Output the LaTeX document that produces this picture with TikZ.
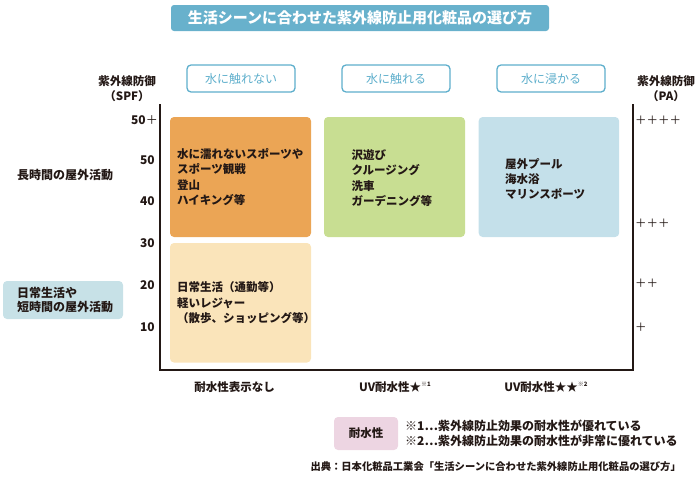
\documentclass[tikz,border=0pt]{standalone}
\usepackage{fontspec}
\setmainfont{Noto Sans CJK JP}
\definecolor{titlebg}{HTML}{68B1CC}
\definecolor{hdr}{HTML}{5EAFCC}
\definecolor{orangebox}{HTML}{EBA555}
\definecolor{yellowbox}{HTML}{FAE4BA}
\definecolor{greenbox}{HTML}{C8DE92}
\definecolor{bluebox}{HTML}{C4E0EA}
\definecolor{leftbox}{HTML}{C7E1E7}
\definecolor{pinkbox}{HTML}{EDD5E2}
\definecolor{txt}{HTML}{231815}
\newcommand{\supnote}[1]{\raisebox{0.75ex}{\fontsize{6}{6}\selectfont #1}}
\begin{document}
\begin{tikzpicture}[x=1pt,y=-1pt,
  areabox/.style={rounded corners=4pt, inner sep=0pt, draw=none},
  hdrbox/.style={draw=hdr, line width=1.3pt, rounded corners=4pt, fill=white,
    minimum width=108pt, minimum height=27pt, inner sep=0pt, text=hdr,
    font=\fontsize{12}{14}\selectfont},
  lbl/.style={font=\bfseries\fontsize{11.5}{15.3}\selectfont, text=txt, inner sep=0pt, align=left},
  axlbl/.style={font=\bfseries\fontsize{11.5}{15}\selectfont, text=txt, inner sep=0pt, align=center},
  tick/.style={font=\bfseries\fontsize{12}{14}\selectfont, text=txt, inner sep=0pt, anchor=east},
  ptick/.style={font=\fontsize{11.5}{14}\selectfont, text=txt, inner sep=0pt, anchor=west},
  axis/.style={line width=1.5pt, draw=txt}
]
\useasboundingbox (0,0) rectangle (700,480);

% title
\node[fill=titlebg, rounded corners=3pt, minimum width=378pt, minimum height=26pt,
  inner sep=0pt, text=white, font=\bfseries\fontsize{15}{18}\selectfont]
  (title) at (360,18) {生活シーンに合わせた紫外線防止用化粧品の選び方};

% column headers
\node[hdrbox] (h1) at (241,78.5) {水に触れない};
\node[hdrbox] (h2) at (396,78.5) {水に触れる};
\node[hdrbox] (h3) at (551,78.5) {水に浸かる};

% axis titles
\node[axlbl] (spf) at (127,89) {紫外線防御\\（SPF）};
\node[axlbl] (pa) at (666,89) {紫外線防御\\（PA）};

% axes
\coordinate (atl) at (160,104);
\coordinate (abl) at (160,370);
\coordinate (abr) at (633,370);
\coordinate (atr) at (633,104);
\draw[axis] (atl) -- (abl) -- (abr) -- (atr);

% area boxes
\node[areabox, fill=orangebox, minimum width=141pt, minimum height=120pt] (orange) at (240.5,177) {};
\node[areabox, fill=yellowbox, minimum width=141pt, minimum height=119.5pt] (yellow) at (240.5,302.75) {};
\node[areabox, fill=greenbox, minimum width=141pt, minimum height=120pt] (green) at (394.5,177) {};
\node[areabox, fill=bluebox, minimum width=140.5pt, minimum height=120pt] (blue) at (548.9,177) {};

\node[lbl, anchor=west] (orangetxt) at ([xshift=7pt]orange.west) {水に濡れないスポーツや\\スポーツ観戦\\登山\\ハイキング等};
\node[lbl, anchor=west] (yellowtxt) at ([xshift=7pt]yellow.west) {日常生活（通勤等）\\軽いレジャー\\（散歩、ショッピング等）};
\node[lbl, anchor=west] (greentxt) at ([xshift=27.5pt,yshift=-1pt]green.west) {沢遊び\\クルージング\\洗車\\ガーデニング等};
\node[lbl, anchor=west] (bluetxt) at ([xshift=26.5pt,yshift=-2pt]blue.west) {屋外プール\\海水浴\\マリンスポーツ};

% left labels
\node[lbl, anchor=west, font=\bfseries\fontsize{12}{15.3}\selectfont] (longact) at (17,175) {長時間の屋外活動};
\node[areabox, fill=leftbox, minimum width=120pt, minimum height=38pt] (shortbox) at (63,300) {};
\node[lbl, anchor=west, font=\bfseries\fontsize{12}{14.5}\selectfont] (shorttxt) at (17,300) {日常生活や\\短時間の屋外活動};

% SPF ticks
\node[tick] (t50p) at (158,120) {50\textmd{＋}};
\node[tick] (t50) at (155,160) {50};
\node[tick] (t40) at (155,201.5) {40};
\node[tick] (t30) at (155,243) {30};
\node[tick] (t20) at (155,285) {20};
\node[tick] (t10) at (155,327.5) {10};

% PA ticks
\node[ptick] (p4) at (635,120) {＋＋＋＋};
\node[ptick] (p3) at (635,223) {＋＋＋};
\node[ptick] (p2) at (635,283) {＋＋};
\node[ptick] (p1) at (635,327) {＋};

% bottom labels
\node[lbl] (b1) at (234.5,386.7) {耐水性表示なし};
\node[lbl] (b2) at (395,386.7) {UV耐水性★\supnote{※1}};
\node[lbl] (b3) at (546,386.7) {UV耐水性★★\supnote{※2}};

% legend
\node[areabox, fill=pinkbox, minimum width=64pt, minimum height=33pt,
  font=\bfseries\fontsize{11.5}{14}\selectfont, text=txt] (pink) at (366,433.5) {耐水性};
\node[lbl, anchor=west, font=\bfseries\fontsize{12}{15.3}\selectfont] (notes) at (405,433.4)
  {※1…紫外線防止効果の耐水性が優れている\\※2…紫外線防止効果の耐水性が非常に優れている};
\node[lbl, anchor=east, font=\bfseries\fontsize{10.3}{12}\selectfont] (source) at (681,466.7)
  {出典：日本化粧品工業会「生活シーンに合わせた紫外線防止用化粧品の選び方」};
\end{tikzpicture}
\end{document}
